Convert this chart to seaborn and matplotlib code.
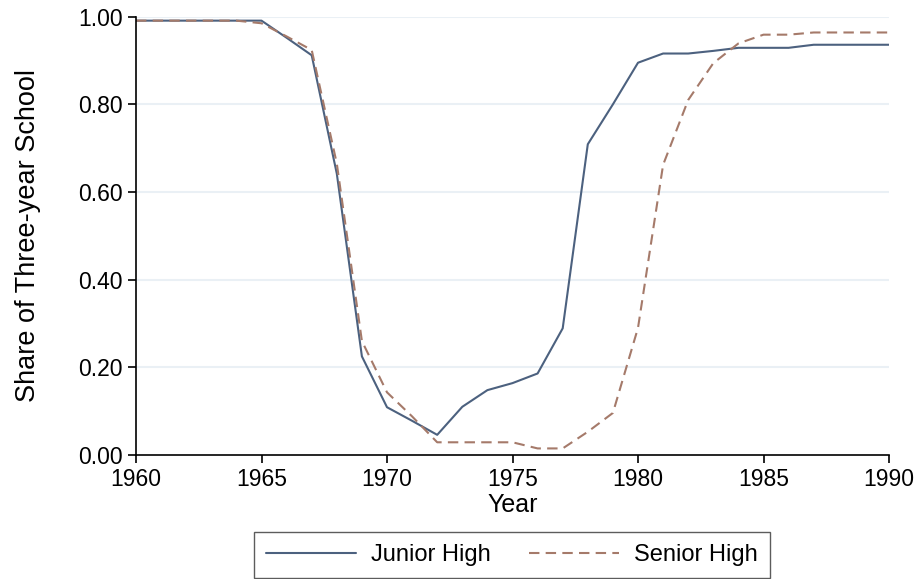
import matplotlib
matplotlib.use("Agg")
import matplotlib.pyplot as plt
import pandas as pd
import seaborn as sns

years = list(range(1960, 1991))
junior = [0.991, 0.991, 0.991, 0.991, 0.991, 0.991, 0.952, 0.912, 0.642, 0.225,
          0.109, 0.078, 0.046, 0.110, 0.148, 0.164, 0.186, 0.289, 0.709, 0.800,
          0.895, 0.916, 0.916, 0.922, 0.929, 0.929, 0.929, 0.936, 0.936, 0.936,
          0.936]
senior = [0.991, 0.991, 0.991, 0.991, 0.991, 0.985, 0.955, 0.924, 0.665, 0.260,
          0.143, 0.088, 0.029, 0.029, 0.029, 0.029, 0.015, 0.015, 0.053, 0.096,
          0.290, 0.662, 0.810, 0.894, 0.939, 0.959, 0.959, 0.964, 0.964, 0.964,
          0.964]

df = pd.DataFrame({
    "Year": years * 2,
    "Share": junior + senior,
    "School": ["Junior High"] * len(years) + ["Senior High"] * len(years),
})

sns.set_style("white")
plt.rcParams["font.family"] = ["Liberation Sans", "DejaVu Sans"]
plt.rcParams["text.color"] = "black"
plt.rcParams["axes.labelcolor"] = "black"
plt.rcParams["xtick.color"] = "black"
plt.rcParams["ytick.color"] = "black"

fig = plt.figure(figsize=(9.17, 5.79), dpi=100)
ax = fig.add_axes([136 / 917, 1 - 455 / 579, (889 - 136) / 917, (455 - 16.7) / 579])

sns.lineplot(data=df, x="Year", y="Share", hue="School", style="School",
             palette={"Junior High": "#4c617f", "Senior High": "#a57a6a"},
             dashes={"Junior High": "", "Senior High": (5, 3)},
             linewidth=1.5, ax=ax)

ax.set_xlim(1960, 1990)
ax.set_ylim(0, 1)
ax.set_xticks(range(1960, 1991, 5))
ax.set_yticks([0, 0.2, 0.4, 0.6, 0.8, 1.0])
ax.set_yticklabels([f"{v:.2f}" for v in [0, 0.2, 0.4, 0.6, 0.8, 1.0]])
for v in [0.2, 0.4, 0.6, 0.8, 1.0]:
    ax.axhline(v, color="#eaf0f5", lw=1.5, zorder=0)

for s in ["top", "right"]:
    ax.spines[s].set_visible(False)
for s in ["left", "bottom"]:
    ax.spines[s].set_color("black")
    ax.spines[s].set_linewidth(1.2)
ax.tick_params(axis="both", direction="out", length=6, width=1.2, labelsize=16.5,
               left=True, bottom=True, color="black", labelcolor="black", pad=3.5)

ax.set_xlabel("Year", fontsize=18, labelpad=1, color="black")
ax.set_ylabel("Share of Three-year School", fontsize=19.5, labelpad=27, color="black")

handles, labels = ax.get_legend_handles_labels()
ax.get_legend().remove()
leg = fig.legend(handles, labels, ncol=2, loc="center", bbox_to_anchor=(512 / 917, 1 - 555 / 579),
                 fontsize=17, frameon=True, fancybox=False, edgecolor="#333333",
                 handlelength=3.8, handletextpad=0.65, columnspacing=1.6,
                 borderpad=0.5)
leg.get_frame().set_linewidth(1.0)
for t in leg.get_texts():
    t.set_color("black")

fig.savefig("out.png", dpi=100)
